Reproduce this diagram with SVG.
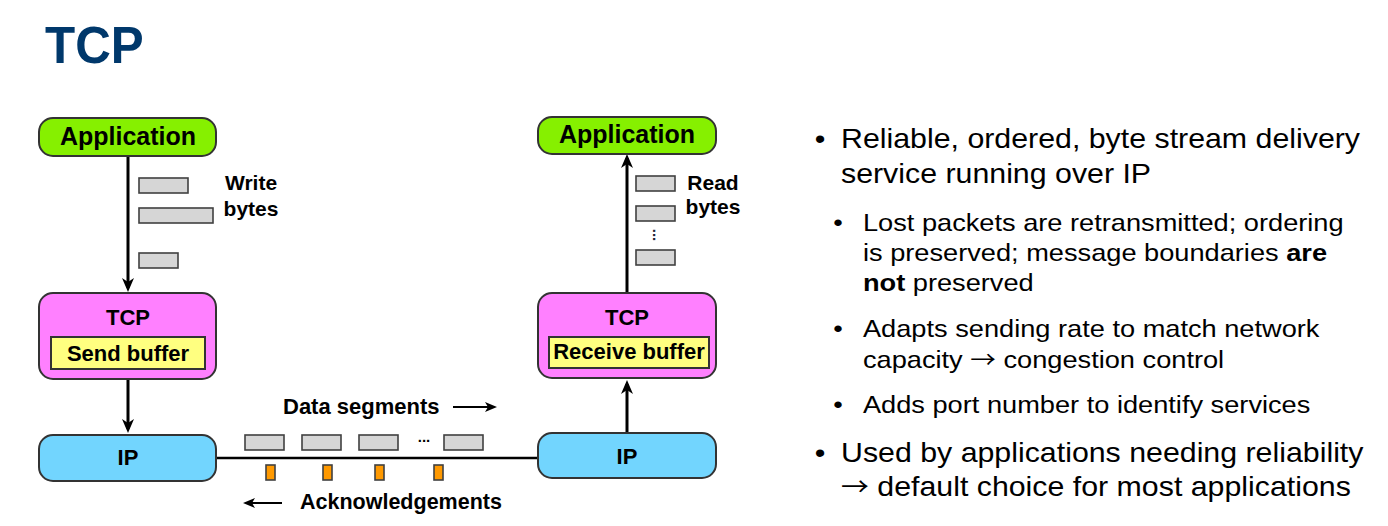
<svg xmlns="http://www.w3.org/2000/svg" width="1388" height="526" viewBox="0 0 1388 526">
  <defs>
    <style>
      .lbl { font-family: "Liberation Sans", Arial, sans-serif; font-weight: bold; fill: #000; }
      .txt { font-family: "Liberation Sans", Arial, sans-serif; fill: #000; }
      .sym { font-family: "Noto Sans CJK JP", "DejaVu Sans", sans-serif; }
      .box { stroke: #333; stroke-width: 2; }
      .app { fill: #86f000; }
      .tcp { fill: #ff80ff; }
      .buf { fill: #ffff80; stroke: #333; stroke-width: 2; }
      .ip { fill: #72d5fe; }
      .byte { fill: #d6d6d6; stroke: #404040; stroke-width: 1.6; }
      .ack { fill: #ff9900; stroke: #404040; stroke-width: 1.6; }
      .wire { stroke: #000; fill: none; }
    </style>
    <marker id="ah" markerUnits="userSpaceOnUse" markerWidth="14" markerHeight="14" viewBox="0 0 14 14" refX="10" refY="7" orient="auto">
      <path d="M0,1 L14,7 L0,13 L4,7 z" fill="#000"/>
    </marker>
    <marker id="ahs" markerUnits="userSpaceOnUse" markerWidth="12" markerHeight="11" viewBox="0 0 12 11" refX="9" refY="5.5" orient="auto">
      <path d="M0,0.5 L12,5.5 L0,10.5 L3,5.5 z" fill="#000"/>
    </marker>
  </defs>

  <rect width="1388" height="526" fill="#fff"/>

  <!-- slide title -->
  <g id="title">
    <text class="lbl" transform="translate(45 63) scale(0.95 1)" font-size="52" style="fill:#00386b">TCP</text>
  </g>

  <!-- connectors -->
  <g id="connectors">
    <line class="wire" x1="128" y1="156" x2="128" y2="288" stroke-width="3" marker-end="url(#ah)"/>
    <line class="wire" x1="128" y1="379" x2="128" y2="429" stroke-width="3" marker-end="url(#ah)"/>
    <line class="wire" x1="627" y1="433" x2="627" y2="384" stroke-width="3" marker-end="url(#ah)"/>
    <line class="wire" x1="627" y1="293" x2="627" y2="158" stroke-width="3" marker-end="url(#ah)"/>
    <line class="wire" x1="216" y1="458" x2="538" y2="458" stroke-width="2.5"/>
    <line class="wire" x1="453" y1="407" x2="494" y2="407" stroke-width="2" marker-end="url(#ahs)"/>
    <line class="wire" x1="282" y1="503" x2="246" y2="503" stroke-width="2" marker-end="url(#ahs)"/>
  </g>

  <!-- sender stack -->
  <g id="app-send">
    <rect class="box app" x="39" y="118" width="177" height="38" rx="14"/>
    <text class="lbl" x="128" y="145" font-size="25" text-anchor="middle">Application</text>
  </g>
  <g id="write-bytes">
    <rect class="byte" x="139" y="178" width="49" height="15"/>
    <rect class="byte" x="139" y="208" width="74" height="15"/>
    <rect class="byte" x="139" y="253" width="39" height="15"/>
    <text class="lbl" x="251" y="190" font-size="21" text-anchor="middle">Write</text>
    <text class="lbl" x="251" y="216" font-size="21" text-anchor="middle">bytes</text>
  </g>
  <g id="tcp-send">
    <rect class="box tcp" x="39" y="293" width="177" height="86" rx="14"/>
    <text class="lbl" x="128" y="325" font-size="22" text-anchor="middle">TCP</text>
    <rect class="buf" x="51" y="337" width="154" height="32"/>
    <text class="lbl" x="128" y="361" font-size="22" text-anchor="middle">Send buffer</text>
  </g>
  <g id="ip-send">
    <rect class="box ip" x="39" y="435" width="177" height="46" rx="14"/>
    <text class="lbl" x="128" y="465" font-size="22" text-anchor="middle">IP</text>
  </g>

  <!-- receiver stack -->
  <g id="app-recv">
    <rect class="box app" x="538" y="117" width="178" height="37" rx="14"/>
    <text class="lbl" x="627" y="143" font-size="25" text-anchor="middle">Application</text>
  </g>
  <g id="read-bytes">
    <rect class="byte" x="636" y="176" width="39" height="15"/>
    <rect class="byte" x="636" y="206" width="39" height="15"/>
    <text class="lbl" transform="translate(653 235) rotate(90)" font-size="15" text-anchor="middle" style="fill:#223">...</text>
    <rect class="byte" x="636" y="250" width="39" height="15"/>
    <text class="lbl" x="713" y="190" font-size="21" text-anchor="middle">Read</text>
    <text class="lbl" x="713" y="214" font-size="21" text-anchor="middle">bytes</text>
  </g>
  <g id="tcp-recv">
    <rect class="box tcp" x="538" y="293" width="178" height="85" rx="14"/>
    <text class="lbl" x="627" y="325" font-size="22" text-anchor="middle">TCP</text>
    <rect class="buf" x="549" y="337" width="160" height="31"/>
    <text class="lbl" x="629" y="359" font-size="22" text-anchor="middle">Receive buffer</text>
  </g>
  <g id="ip-recv">
    <rect class="box ip" x="538" y="433" width="178" height="45" rx="14"/>
    <text class="lbl" x="627" y="464" font-size="22" text-anchor="middle">IP</text>
  </g>

  <!-- traffic on the wire -->
  <g id="data-segments">
    <text class="lbl" x="283" y="414" font-size="22">Data segments</text>
    <rect class="byte" x="245" y="435" width="39" height="15"/>
    <rect class="byte" x="302" y="435" width="39" height="15"/>
    <rect class="byte" x="359" y="435" width="39" height="15"/>
    <text class="lbl" x="424" y="442" font-size="15" text-anchor="middle">...</text>
    <rect class="byte" x="444" y="435" width="39" height="15"/>
  </g>
  <g id="acks">
    <rect class="ack" x="266" y="465" width="9" height="15"/>
    <rect class="ack" x="323" y="465" width="9" height="15"/>
    <rect class="ack" x="375" y="465" width="9" height="15"/>
    <rect class="ack" x="434" y="465" width="9" height="15"/>
    <text class="lbl" x="300" y="509" font-size="21.5">Acknowledgements</text>
  </g>

  <!-- bullet list -->
  <g id="bullets" transform="translate(841 0) scale(1.115 1)">
    <g font-size="27.2">
      <text class="txt" x="-23.6" y="148.5">•</text>
      <text class="txt" x="0" y="148.5">Reliable, ordered, byte stream delivery</text>
      <text class="txt" x="0" y="183">service running over IP</text>
    </g>
    <g font-size="24.4">
      <text class="txt" x="-7" y="231">•</text>
      <text class="txt" x="19.7" y="231">Lost packets are retransmitted; ordering</text>
      <text class="txt" x="19.7" y="261">is preserved; message boundaries <tspan font-weight="bold">are</tspan></text>
      <text class="txt" x="19.7" y="291"><tspan font-weight="bold">not</tspan> preserved</text>
      <text class="txt" x="-7" y="337">•</text>
      <text class="txt" x="19.7" y="337">Adapts sending rate to match network</text>
      <text class="txt" x="19.7" y="368">capacity <tspan class="sym" font-size="23">→</tspan> congestion control</text>
      <text class="txt" x="-7" y="413">•</text>
      <text class="txt" x="19.7" y="413">Adds port number to identify services</text>
    </g>
    <g font-size="27.2">
      <text class="txt" x="-23.6" y="462">•</text>
      <text class="txt" x="0" y="462">Used by applications needing reliability</text>
      <text class="txt" x="0" y="496"><tspan class="sym" font-size="25">→</tspan> default choice for most applications</text>
    </g>
  </g>
</svg>
